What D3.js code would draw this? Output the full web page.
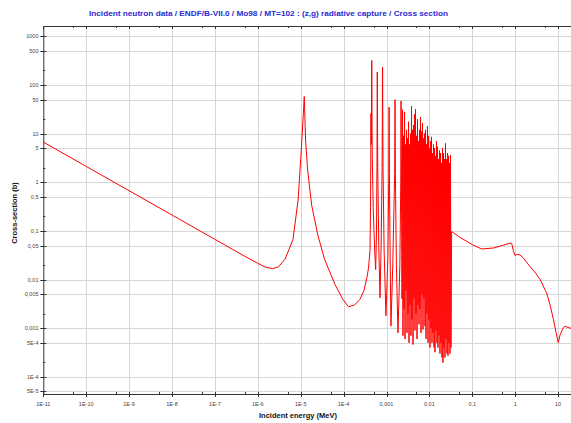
<!DOCTYPE html>
<html>
<head>
<meta charset="utf-8">
<script src="https://cdn.jsdelivr.net/npm/d3@7"></script>
<style>
  html, body { margin: 0; padding: 0; background: #ffffff; }
  svg { display: block; font-family: "Liberation Sans", Arial, sans-serif; }
</style>
</head>
<body>
<div id="chart"></div>
<script>
// Mo98 (n,g) capture cross section (energy in MeV, xs in barns)
const thermalRange = [
    [1e-11, 6.7], [1e-10, 2.12], [1e-9, 0.67], [1e-8, 0.212], [1e-7, 0.067],
    [5e-7, 0.03], [1e-6, 0.0215], [1.5e-6, 0.018], [2.2e-6, 0.0168], [3e-6, 0.018],
    [4.3e-6, 0.026], [6.6e-6, 0.066], [8.7e-6, 0.43], [1e-5, 2.9], [1.13e-5, 18.8],
    [1.21e-5, 58], [1.3e-5, 7.4], [1.45e-5, 1.8], [1.8e-5, 0.34], [2.5e-5, 0.083],
    [3.6e-5, 0.026], [6.3e-5, 0.0079], [9.6e-5, 0.0039], [1.3e-4, 0.00275],
    [1.8e-4, 0.003], [2.4e-4, 0.0039]
];

// first isolated resonances
const lowResonances = [
    [3.0e-4, 0.006], [3.5e-4, 0.011], [3.8e-4, 0.017], [4.13e-4, 0.04], [4.25e-4, 0.3],
    [4.35e-4, 26], [4.42e-4, 6], [4.53e-4, 320], [4.65e-4, 4], [4.9e-4, 0.3],
    [5.3e-4, 0.04], [5.6e-4, 0.016], [5.85e-4, 0.1], [6.0e-4, 2.5], [6.1e-4, 185],
    [6.25e-4, 2], [6.6e-4, 0.05], [7.05e-4, 0.0042], [7.5e-4, 0.05], [7.9e-4, 2],
    [8.1e-4, 234], [8.3e-4, 2], [8.8e-4, 0.04], [9.7e-4, 0.0018], [1.08e-3, 0.03],
    [1.13e-3, 1.5], [1.15e-3, 35], [1.17e-3, 1.5], [1.22e-3, 0.02], [1.27e-3, 0.0011],
    [1.4e-3, 0.02], [1.55e-3, 1.5], [1.58e-3, 50], [1.61e-3, 1.5], [1.7e-3, 0.02],
    [1.85e-3, 0.0008], [2.05e-3, 0.02], [2.15e-3, 1], [2.18e-3, 47], [2.23e-3, 1.5]
];

// dense resonance forest (valley / peak pairs)
const resonanceForest = [
    [2.30e-3, 0.004], [2.36e-3, 31], [2.42e-3, 0.0007], [2.49e-3, 9],
    [2.56e-3, 0.0025], [2.63e-3, 28], [2.70e-3, 0.0006], [2.77e-3, 6],
    [2.85e-3, 0.006], [2.93e-3, 12], [3.01e-3, 0.0008], [3.09e-3, 8],
    [3.17e-3, 0.002], [3.26e-3, 17.5], [3.35e-3, 0.0005], [3.44e-3, 6],
    [3.53e-3, 0.003], [3.63e-3, 10], [3.72e-3, 0.0007], [3.83e-3, 37],
    [3.93e-3, 0.0015], [4.04e-3, 12], [4.15e-3, 0.00046], [4.26e-3, 15],
    [4.37e-3, 0.004], [4.49e-3, 25], [4.62e-3, 0.0009], [4.74e-3, 32],
    [4.87e-3, 0.002], [5.00e-3, 9], [5.14e-3, 0.0006], [5.28e-3, 20],
    [5.42e-3, 0.003], [5.57e-3, 7], [5.72e-3, 0.0012], [5.88e-3, 12],
    [6.03e-3, 0.0025], [6.20e-3, 22], [6.37e-3, 0.0008], [6.54e-3, 11],
    [6.72e-3, 0.005], [6.90e-3, 16.6], [7.09e-3, 0.00094], [7.28e-3, 8],
    [7.48e-3, 0.004], [7.68e-3, 10], [7.89e-3, 0.0011], [8.11e-3, 12],
    [8.33e-3, 0.0006], [8.55e-3, 6], [8.78e-3, 0.002], [9.02e-3, 14.2],
    [9.27e-3, 0.0005], [9.52e-3, 9], [9.78e-3, 0.0015], [1.005e-2, 5],
    [1.032e-2, 0.0004], [1.060e-2, 7], [1.089e-2, 0.001], [1.118e-2, 8.6],
    [1.149e-2, 0.0005], [1.180e-2, 4], [1.212e-2, 0.0008], [1.245e-2, 6],
    [1.279e-2, 0.0004], [1.314e-2, 5], [1.349e-2, 0.00032], [1.386e-2, 3.5],
    [1.424e-2, 0.0009], [1.462e-2, 7], [1.502e-2, 0.0005], [1.543e-2, 5.4],
    [1.585e-2, 0.0004], [1.628e-2, 3], [1.672e-2, 0.0007], [1.718e-2, 4.5],
    [1.764e-2, 0.0003], [1.812e-2, 4], [1.861e-2, 0.0005], [1.912e-2, 2.5],
    [1.964e-2, 0.00025], [2.017e-2, 5], [2.072e-2, 0.000195], [2.129e-2, 4],
    [2.186e-2, 0.0004], [2.246e-2, 3], [2.307e-2, 0.00025], [2.370e-2, 6.3],
    [2.434e-2, 0.0006], [2.500e-2, 3], [2.568e-2, 0.0003], [2.638e-2, 4],
    [2.710e-2, 0.00027], [2.783e-2, 3.5], [2.859e-2, 0.0005], [2.937e-2, 2.5],
    [3.017e-2, 0.0003], [3.099e-2, 3.6], [3.183e-2, 0.0004]
];

// smooth part above the resonance region
const fastRange = [
    [3.3e-2, 0.097], [5e-2, 0.075], [0.1, 0.052], [0.166, 0.0424], [0.31, 0.0445],
    [0.5, 0.05], [0.76, 0.056], [0.83, 0.055], [0.9, 0.04], [0.99, 0.031],
    [1.1, 0.033], [1.29, 0.032], [1.55, 0.0277], [2.2, 0.0186], [3.0, 0.0135],
    [3.8, 0.01], [5.4, 0.0053], [6.5, 0.003], [7.8, 0.0015], [9.0, 0.0008],
    [10.1, 0.0005], [11.0, 0.0007], [11.7, 0.0008], [13, 0.001], [14.5, 0.0011],
    [16, 0.00105], [19, 0.001], [20, 0.001]
];

const xTickValues = [1e-11, 1e-10, 1e-9, 1e-8, 1e-7, 1e-6, 1e-5, 1e-4, 1e-3, 1e-2, 0.1, 1, 10];
const xTickLabels = ["1E-11", "1E-10", "1E-9", "1E-8", "1E-7", "1E-6", "1E-5", "1E-4", "0,001", "0,01", "0,1", "1", "10"];
const yTickValues = [1000, 500, 100, 50, 10, 5, 1, 0.5, 0.1, 0.05, 0.01, 0.005, 0.001, 5e-4, 1e-4, 5e-5];
const yTickLabels = ["1000", "500", "100", "50", "10", "5", "1", "0,5", "0,1", "0,05", "0,01", "0,005", "0,001", "5E-4", "1E-4", "5E-5"];

const title = "Incident neutron data / ENDF/B-VII.0 / Mo98 / MT=102 : (z,g) radiative capture / Cross section";

const width = 571, height = 423;
const plot = { left: 43.3, right: 571, top: 26, bottom: 394 };

const svg = d3.select("#chart").append("svg")
    .attr("width", width)
    .attr("height", height);

// log scales (right end runs past 10 MeV up to 20 MeV, cut by the window)
const x = d3.scaleLog().domain([1e-11, 10]).range([plot.left, 558.1]);
const y = d3.scaleLog().domain([5e-5, 1000]).range([391.4, 36.4]);

// grid
const grid = svg.append("g").attr("stroke", "#d6d6d6").attr("stroke-width", 1);
xTickValues.slice(1).forEach(v => {
    grid.append("line")
        .attr("x1", Math.round(x(v)) + 0.5).attr("x2", Math.round(x(v)) + 0.5)
        .attr("y1", plot.top).attr("y2", plot.bottom);
});
yTickValues.forEach(v => {
    grid.append("line")
        .attr("x1", plot.left).attr("x2", plot.right)
        .attr("y1", Math.round(y(v)) + 0.5).attr("y2", Math.round(y(v)) + 0.5);
});

// curve
svg.append("clipPath").attr("id", "clip")
    .append("rect")
    .attr("x", plot.left).attr("y", plot.top)
    .attr("width", plot.right - plot.left).attr("height", plot.bottom - plot.top);

const allPoints = thermalRange.concat(lowResonances, resonanceForest, fastRange);
const line = d3.line().x(d => x(d[0])).y(d => y(d[1]));

svg.append("path")
    .datum(allPoints)
    .attr("clip-path", "url(#clip)")
    .attr("fill", "none")
    .attr("stroke", "#ff0000")
    .attr("stroke-width", 1)
    .attr("stroke-linejoin", "round")
    .attr("d", line);

// axes frame
const axisColor = "#333";
svg.append("line")
    .attr("x1", plot.left).attr("x2", plot.right)
    .attr("y1", plot.bottom + 0.5).attr("y2", plot.bottom + 0.5)
    .attr("stroke", axisColor);
svg.append("line")
    .attr("x1", plot.left).attr("x2", plot.right)
    .attr("y1", plot.top + 0.5).attr("y2", plot.top + 0.5)
    .attr("stroke", axisColor);
svg.append("line")
    .attr("x1", plot.left + 0.5).attr("x2", plot.left + 0.5)
    .attr("y1", plot.top).attr("y2", plot.bottom)
    .attr("stroke", axisColor);

// x ticks: decades (major) and 5x (minor), on bottom and top
const xMinor = xTickValues.map(v => v * 5);
xTickValues.forEach(v => {
    const px = Math.round(x(v)) + 0.5;
    svg.append("line").attr("x1", px).attr("x2", px)
        .attr("y1", plot.bottom - 2).attr("y2", plot.bottom + 3).attr("stroke", axisColor);
    svg.append("line").attr("x1", px).attr("x2", px)
        .attr("y1", plot.top).attr("y2", plot.top + 3).attr("stroke", axisColor);
});
xMinor.forEach(v => {
    const px = Math.round(x(v)) + 0.5;
    if (px > plot.right) return;
    svg.append("line").attr("x1", px).attr("x2", px)
        .attr("y1", plot.bottom - 2).attr("y2", plot.bottom + 1).attr("stroke", axisColor);
    svg.append("line").attr("x1", px).attr("x2", px)
        .attr("y1", plot.top).attr("y2", plot.top + 2).attr("stroke", axisColor);
});

svg.append("g").selectAll("text")
    .data(xTickValues)
    .join("text")
    .attr("x", d => x(d))
    .attr("y", 406)
    .attr("text-anchor", "middle")
    .attr("font-size", 5.5)
    .attr("fill", "#444")
    .text((d, i) => xTickLabels[i]);

// y ticks: labelled ones cross the axis, 2x ones are small
const yMinor = [200, 20, 2, 0.2, 0.02, 0.002, 2e-4];
yTickValues.forEach(v => {
    const py = Math.round(y(v)) + 0.5;
    svg.append("line").attr("x1", plot.left - 3).attr("x2", plot.left + 3)
        .attr("y1", py).attr("y2", py).attr("stroke", axisColor);
});
yMinor.forEach(v => {
    const py = Math.round(y(v)) + 0.5;
    svg.append("line").attr("x1", plot.left).attr("x2", plot.left + 2)
        .attr("y1", py).attr("y2", py).attr("stroke", axisColor);
});

svg.append("g").selectAll("text")
    .data(yTickValues)
    .join("text")
    .attr("x", 38.5)
    .attr("y", d => y(d) + 2)
    .attr("text-anchor", "end")
    .attr("font-size", 5.5)
    .attr("fill", "#444")
    .text((d, i) => yTickLabels[i]);

// titles
svg.append("text")
    .attr("x", 268.5)
    .attr("y", 16)
    .attr("text-anchor", "middle")
    .attr("font-size", 7.5)
    .attr("font-weight", "bold")
    .attr("fill", "#2a2ad0")
    .attr("textLength", 359)
    .attr("lengthAdjust", "spacingAndGlyphs")
    .text(title);

svg.append("text")
    .attr("x", 298)
    .attr("y", 418)
    .attr("text-anchor", "middle")
    .attr("font-size", 7.5)
    .attr("font-weight", "bold")
    .attr("fill", "#111")
    .text("Incident energy (MeV)");

svg.append("text")
    .attr("transform", "translate(16.5,213) rotate(-90)")
    .attr("text-anchor", "middle")
    .attr("font-size", 7.5)
    .attr("font-weight", "bold")
    .attr("fill", "#111")
    .text("Cross-section (b)");
</script>
</body>
</html>
